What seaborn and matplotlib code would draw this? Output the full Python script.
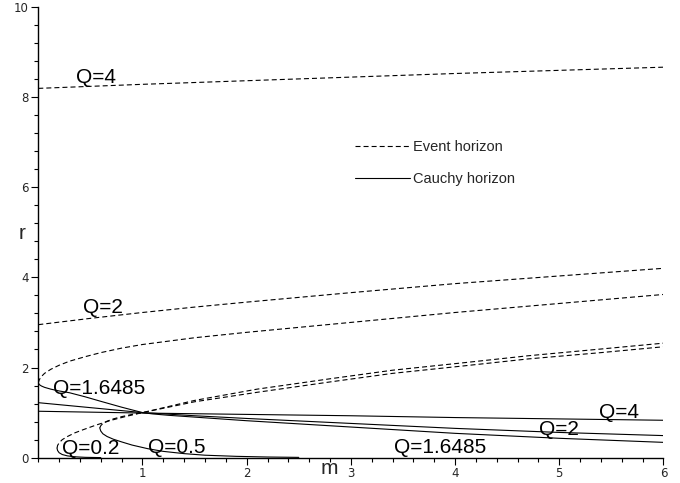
import numpy as np
import pandas as pd
import matplotlib
matplotlib.use("Agg")
import matplotlib.pyplot as plt
from matplotlib.lines import Line2D
from matplotlib.ticker import MultipleLocator, FixedLocator
import seaborn as sns

# ---- horizon branches r(m) for each charge Q ----
# Event horizons (outer branches)
q4_evt_m = [0, 1, 2, 3, 4, 5, 6]
q4_evt_r = [8.19, 8.28, 8.36, 8.44, 8.52, 8.59, 8.66]

q2_evt_m = [0, 0.5, 1, 1.5, 2, 3, 4, 5, 6]
q2_evt_r = [2.95, 3.09, 3.22, 3.34, 3.45, 3.66, 3.86, 4.03, 4.20]

q16_evt_m = [0, 0.01, 0.03, 0.06, 0.12, 0.2, 0.3, 0.45, 0.6, 0.8, 1, 1.5, 2, 3, 4, 5, 6]
q16_evt_r = [1.66, 1.73, 1.80, 1.87, 1.96, 2.05, 2.14, 2.24, 2.33, 2.43, 2.51, 2.66, 2.78,
             3.00, 3.22, 3.42, 3.62]

q05_evt_m = [0.59, 0.6, 0.62, 0.66, 0.72, 0.8, 0.9, 1.0, 1.5, 2.1, 2.8, 3.4, 4.1, 4.7, 5.4, 6]
q05_evt_r = [0.66, 0.71, 0.76, 0.81, 0.86, 0.91, 0.96, 1.0, 1.27, 1.52, 1.75, 1.94,
             2.11, 2.26, 2.41, 2.54]

q02_evt_m = [0.18, 0.185, 0.2, 0.23, 0.28, 0.35, 0.43, 0.55, 0.7, 0.85, 1.0, 1.5, 2.1,
             2.8, 3.4, 4.1, 4.7, 5.4, 6]
q02_evt_r = [0.21, 0.27, 0.33, 0.40, 0.47, 0.55, 0.62, 0.72, 0.83, 0.92, 1.0, 1.24, 1.45,
             1.68, 1.87, 2.04, 2.19, 2.33, 2.46]

# Cauchy horizons (inner branches)
q4_cau_m = [0, 1, 2, 3, 4, 5, 6]
q4_cau_r = [1.03, 0.99, 0.96, 0.93, 0.89, 0.86, 0.83]

q2_cau_m = [0, 0.5, 1, 1.5, 2, 3, 4, 5, 6]
q2_cau_r = [1.22, 1.11, 1.0, 0.93, 0.87, 0.76, 0.65, 0.56, 0.49]

q16_cau_m = [0, 0.01, 0.03, 0.06, 0.12, 0.2, 0.3, 0.45, 0.6, 0.8, 0.9, 1.0, 1.1, 1.25, 1.5,
             2, 3, 4, 5, 6]
q16_cau_r = [1.66, 1.62, 1.59, 1.56, 1.52, 1.48, 1.44, 1.35, 1.25, 1.12, 1.06, 1.0, 0.97,
             0.94, 0.90, 0.82, 0.68, 0.54, 0.43, 0.34]

q05_cau_m = [0.59, 0.6, 0.62, 0.66, 0.72, 0.8, 0.9, 1.05, 1.2, 1.4, 1.6, 1.9, 2.2, 2.5]
q05_cau_r = [0.66, 0.59, 0.53, 0.47, 0.41, 0.35, 0.28, 0.20, 0.14, 0.09, 0.055, 0.03,
             0.015, 0.007]

q02_cau_m = [0.18, 0.185, 0.2, 0.23, 0.28, 0.35, 0.45, 0.6]
q02_cau_r = [0.21, 0.16, 0.11, 0.07, 0.04, 0.02, 0.008, 0.002]

# curve labels: text, m, r (left/baseline anchor)
label_text = ["Q=4", "Q=2", "Q=1.6485", "Q=0.2", "Q=0.5", "Q=1.6485", "Q=2", "Q=4"]
label_m = [0.365, 0.43, 0.144, 0.225, 1.056, 3.41, 4.81, 5.38]
label_r = [8.31, 3.21, 1.41, 0.08, 0.10, 0.11, 0.50, 0.87]

branches = [
    ("Q=4 event", q4_evt_m, q4_evt_r, "event"),
    ("Q=2 event", q2_evt_m, q2_evt_r, "event"),
    ("Q=1.6485 event", q16_evt_m, q16_evt_r, "event"),
    ("Q=0.5 event", q05_evt_m, q05_evt_r, "event"),
    ("Q=0.2 event", q02_evt_m, q02_evt_r, "event"),
    ("Q=4 cauchy", q4_cau_m, q4_cau_r, "cauchy"),
    ("Q=2 cauchy", q2_cau_m, q2_cau_r, "cauchy"),
    ("Q=1.6485 cauchy", q16_cau_m, q16_cau_r, "cauchy"),
    ("Q=0.5 cauchy", q05_cau_m, q05_cau_r, "cauchy"),
    ("Q=0.2 cauchy", q02_cau_m, q02_cau_r, "cauchy"),
]

frames = []
for name, ms, rs, kind in branches:
    frames.append(pd.DataFrame({"m": ms, "r": rs, "branch": name, "kind": kind}))
df = pd.concat(frames, ignore_index=True)

sns.set_theme(style="ticks")
plt.rcParams["font.family"] = ["Liberation Sans", "DejaVu Sans"]
plt.rcParams["lines.scale_dashes"] = False

fig, ax = plt.subplots(figsize=(6.8, 4.83), dpi=100)
fig.subplots_adjust(left=0.0563, right=0.9757, bottom=0.0524, top=0.986)

dash = (0, (3.6, 2.2))
for name, sub in df.groupby("branch", sort=False):
    kind = sub["kind"].iloc[0]
    sns.lineplot(data=sub, x="m", y="r", sort=False, estimator=None, ax=ax,
                 color="black", lw=0.8,
                 linestyle=dash if kind == "event" else "-", legend=False)

for t, mm, rr in zip(label_text, label_m, label_r):
    ax.text(mm, rr, t, fontsize=15, ha="left", va="baseline", color="black")

ax.set_xlim(0, 6)
ax.set_ylim(0, 10)
sns.despine(ax=ax)
for s in ("left", "bottom"):
    ax.spines[s].set_linewidth(1.0)
    ax.spines[s].set_color("black")

ax.xaxis.set_major_locator(FixedLocator([1, 2, 3, 4, 5, 6]))
ax.xaxis.set_minor_locator(MultipleLocator(0.2))
ax.yaxis.set_major_locator(MultipleLocator(2))
ax.yaxis.set_minor_locator(MultipleLocator(0.4))
ax.tick_params(which="major", length=5, width=0.8, color="black",
               labelsize=8.5, pad=2, direction="out")
ax.tick_params(which="minor", length=3, width=0.8, color="black", direction="out")
for lab in ax.get_xticklabels() + ax.get_yticklabels():
    lab.set_family("DejaVu Sans")
ax.set_xlabel("")
ax.set_ylabel("")

ax.text(0.465, -0.036, "m", transform=ax.transAxes, fontsize=15,
        ha="center", va="baseline")
ax.text(-0.026, 0.485, "r", transform=ax.transAxes, fontsize=15,
        ha="center", va="baseline")

handles = [Line2D([], [], color="black", lw=0.8, linestyle=dash),
           Line2D([], [], color="black", lw=0.8, linestyle="-")]
ax.legend(handles, ["Event horizon", "Cauchy horizon"], loc="upper left",
          bbox_to_anchor=(0.5066, 0.705), frameon=False, fontsize=10.5,
          handlelength=3.8, handletextpad=0.15, labelspacing=1.25,
          borderaxespad=0, borderpad=0)

fig.savefig("out.png", dpi=100)
